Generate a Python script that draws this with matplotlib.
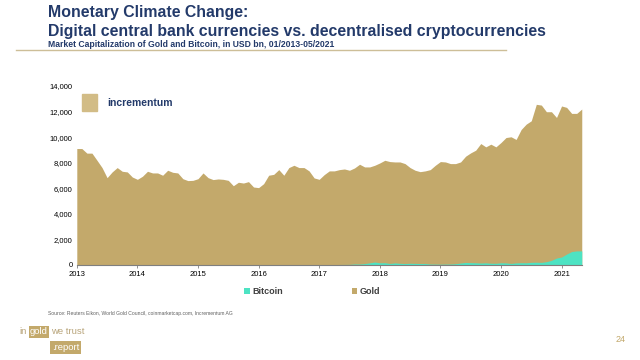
import numpy as np
import matplotlib.pyplot as plt
from matplotlib.patches import Rectangle

# monthly values, 01/2013 - 05/2021, USD bn
gold = [9110, 9110, 8750, 8750, 8190, 7620, 6830, 7280, 7620, 7330, 7280, 6880,
        6700, 6940, 7330, 7200, 7200, 7020, 7410, 7250, 7200, 6750, 6600, 6620,
        6750, 7200, 6830, 6680, 6730, 6700, 6620, 6200, 6470, 6410, 6520, 6100,
        6050, 6360, 7020, 7090, 7460, 7020, 7620, 7800, 7620, 7620, 7360, 6810,
        6700, 7070, 7360, 7360, 7460, 7510, 7410, 7590, 7880, 7670, 7670, 7800,
        7980, 8190, 8090, 8060, 8060, 7930, 7620, 7410, 7300, 7360, 7460, 7800,
        8090, 8060, 7930, 7930, 8060, 8510, 8770, 8980, 9500, 9240, 9450, 9240,
        9580, 9970, 10030, 9820, 10600, 11020, 11280, 12570, 12510, 11990, 11990, 11540,
        12440, 12330, 11860, 11860, 12200]
bitcoin = [0.2, 0.3, 1, 1.5, 1.4, 1.1, 1.2, 1.5, 1.6, 2.4, 13, 9,
           10, 7, 6, 5.5, 8, 8, 7.5, 6.5, 5, 4.5, 5, 4,
           3, 3.5, 3.5, 3.3, 3.3, 3.8, 4, 3.4, 3.5, 4.7, 5, 6.5,
           5.5, 6.5, 6.5, 7, 8.5, 10.5, 10.5, 9, 9.5, 11, 12, 15.5,
           15.5, 19, 17, 22, 38, 41, 45, 78, 72, 107, 165, 230,
           170, 175, 117, 158, 128, 110, 132, 120, 115, 110, 70, 65,
           60, 67, 72, 95, 150, 195, 180, 170, 150, 165, 135, 130,
           170, 160, 120, 160, 175, 170, 205, 215, 200, 255, 360, 540,
           620, 850, 1050, 1100, 1100]
years = list(range(2013, 2022))

navy = '#233A6A'
gold_c = '#C3A96B'
btc_c = '#4DE3C3'

plt.rcParams['font.family'] = ['Liberation Sans', 'DejaVu Sans']

t = 2013 + np.arange(len(gold)) / 12

fig = plt.figure(figsize=(6.4, 3.6), dpi=100)
ax = fig.add_axes([0.120, 0.264, 0.789, 0.497])
ax.fill_between(t, 0, gold, color=gold_c, lw=0, label='Gold')
ax.fill_between(t, 0, bitcoin, color=btc_c, lw=0, label='Bitcoin')

ax.set_xlim(2013, t[-1])
ax.set_ylim(0, 14000)
ax.set_xticks(years)
ax.set_xticklabels([str(y) for y in years])
ax.set_yticks(range(0, 14001, 2000))
ax.set_yticklabels(['{:,}'.format(v) for v in range(0, 14001, 2000)])
for s in ['top', 'right', 'left']:
    ax.spines[s].set_visible(False)
ax.spines['bottom'].set_color('#7f7f7f')
ax.spines['bottom'].set_linewidth(0.8)
ax.tick_params(axis='x', labelsize=5.5, length=2, width=0.6, color='#7f7f7f', pad=2)
ax.tick_params(axis='y', labelsize=5.5, length=0, pad=3)

# legend
h, l = ax.get_legend_handles_labels()
fig.legend([h[1], h[0]], [l[1], l[0]], loc='center', bbox_to_anchor=(0.488, 0.19),
           ncol=2, frameon=False, fontsize=6.5, handlelength=0.6, handleheight=0.6,
           handletextpad=0.3, columnspacing=7.6)
for txt in fig.legends[0].get_texts():
    txt.set_fontweight('bold')
    txt.set_color('#404040')

# header
fig.text(0.075, 0.965, 'Monetary Climate Change:', fontsize=11.4, fontweight='bold',
         color=navy, va='center')
fig.text(0.075, 0.913, 'Digital central bank currencies vs. decentralised cryptocurrencies',
         fontsize=11.4, fontweight='bold', color=navy, va='center')
fig.text(0.075, 0.876, 'Market Capitalization of Gold and Bitcoin, in USD bn, 01/2013-05/2021',
         fontsize=6.2, fontweight='bold', color=navy, va='center')
fig.add_artist(plt.Line2D([0.025, 0.79], [0.86, 0.86], color='#CDBE98', lw=1))

# incrementum logo
fig.add_artist(Rectangle((0.128, 0.692), 0.023, 0.048, color='#D2BC86',
                         transform=fig.transFigure))
fig.text(0.168, 0.713, 'incrementum', fontsize=7.5, fontweight='bold', color=navy, va='center')

# source
fig.text(0.075, 0.13, 'Source: Reuters Eikon, World Gold Council, coinmarketcap.com, Incrementum AG',
         fontsize=3.6, color='#606060', va='center')

# footer logo
fig.text(0.03, 0.078, 'in', fontsize=6.8, color='#B8A47A', va='center')
fig.text(0.047, 0.078, 'gold', fontsize=6.8, color='white', va='center',
         bbox=dict(boxstyle='square,pad=0.15', fc=gold_c, ec='none'))
fig.text(0.079, 0.078, 'we trust', fontsize=6.8, color='#B8A47A', va='center')
fig.text(0.081, 0.035, '.report', fontsize=6.8, color='white', va='center',
         bbox=dict(boxstyle='square,pad=0.2', fc=gold_c, ec='none'))
fig.text(0.978, 0.058, '24', fontsize=6.5, color='#C2A86B', va='center', ha='right')

fig.savefig('out.png', dpi=100)
